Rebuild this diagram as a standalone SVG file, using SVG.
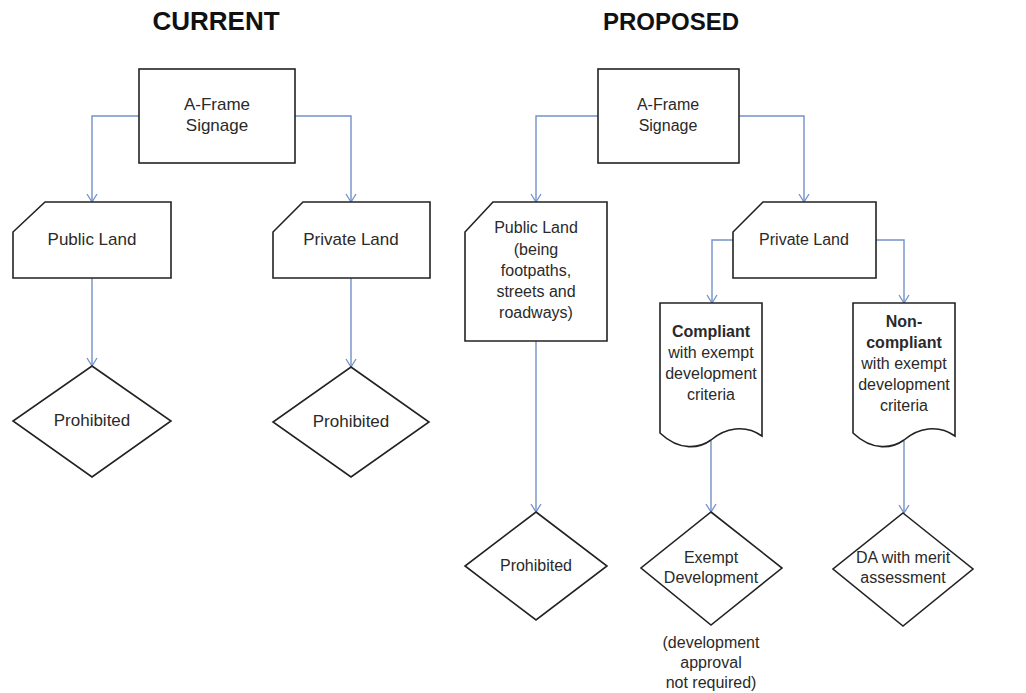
<svg xmlns="http://www.w3.org/2000/svg" width="1026" height="693" viewBox="0 0 1026 693">
<defs>
<marker id="arr" markerUnits="userSpaceOnUse" markerWidth="12" markerHeight="12" viewBox="0 0 12 12" refX="10" refY="6" orient="auto">
<path d="M2,1 L10,6 L2,11" fill="none" stroke="#7391c9" stroke-width="1.3"/>
</marker>
<style>
.shape{fill:#fff;stroke:#222;stroke-width:1.6}
.conn{fill:none;stroke:#7391c9;stroke-width:1.4;marker-end:url(#arr)}
.t{font-family:"Liberation Sans",Arial,sans-serif;fill:#2a2a2a;text-anchor:middle}
.l{font-size:17px}
.r{font-size:16px}
.b{font-weight:bold}
.title{font-family:"Liberation Sans",Arial,sans-serif;font-weight:bold;fill:#111;text-anchor:middle}
</style>
</defs>
<rect width="1026" height="693" fill="#fff"/>
<text class="title" x="216" y="30" font-size="26">CURRENT</text>
<text class="title" x="671" y="30" font-size="24">PROPOSED</text>
<g id="connectors">
<path class="conn" d="M139,116 H92 V202"/>
<path class="conn" d="M295,116 H351 V202"/>
<path class="conn" d="M92,278 V366"/>
<path class="conn" d="M351,278 V367"/>
<path class="conn" d="M598,116 H536 V202"/>
<path class="conn" d="M739,116 H804 V202"/>
<path class="conn" d="M733,240 H712 V303"/>
<path class="conn" d="M876,240 H904 V303"/>
<path class="conn" d="M536,341 V512"/>
<path class="conn" d="M711,441 V512"/>
<path class="conn" d="M904,441 V513"/>
</g>
<g id="cur-aframe">
<rect class="shape" x="139" y="69" width="156" height="94"/>
<text class="t l" x="217" y="110">A-Frame</text>
<text class="t l" x="217" y="131">Signage</text>
</g>
<g id="cur-public">
<path class="shape" d="M45,202 L171,202 L171,278 L13,278 L13,232 Z"/>
<text class="t l" x="92" y="245">Public Land</text>
</g>
<g id="cur-private">
<path class="shape" d="M303,202 L430,202 L430,278 L273,278 L273,232 Z"/>
<text class="t l" x="351" y="245">Private Land</text>
</g>
<g id="cur-prohibited-1">
<polygon class="shape" points="92,366 171,421 92,477 13,421"/>
<text class="t l" x="92" y="426">Prohibited</text>
</g>
<g id="cur-prohibited-2">
<polygon class="shape" points="351,367 429,422 351,477 273,422"/>
<text class="t l" x="351" y="427">Prohibited</text>
</g>
<g id="prop-aframe">
<rect class="shape" x="598" y="69" width="141" height="94"/>
<text class="t r" x="668" y="110">A-Frame</text>
<text class="t r" x="668" y="131">Signage</text>
</g>
<g id="prop-public">
<path class="shape" d="M493,202 L607,202 L607,341 L465,341 L465,232 Z"/>
<text class="t r" x="536" y="233">Public Land</text>
<text class="t r" x="536" y="255">(being</text>
<text class="t r" x="536" y="276">footpaths,</text>
<text class="t r" x="536" y="297">streets and</text>
<text class="t r" x="536" y="318">roadways)</text>
</g>
<g id="prop-private">
<path class="shape" d="M763,202 L876,202 L876,278 L733,278 L733,232 Z"/>
<text class="t r" x="804" y="245">Private Land</text>
</g>
<g id="prop-compliant">
<path class="shape" d="M660,303 H762 V436 C745,424 725,428 711,440 C700,448 680,452 660,433 Z"/>
<text class="t r b" x="711" y="337">Compliant</text>
<text class="t r" x="711" y="358">with exempt</text>
<text class="t r" x="711" y="379">development</text>
<text class="t r" x="711" y="400">criteria</text>
</g>
<g id="prop-noncompliant">
<path class="shape" d="M853,303 H955 V436 C938,424 918,428 904,440 C893,448 873,452 853,433 Z"/>
<text class="t r b" x="904" y="327">Non-</text>
<text class="t r b" x="904" y="348">compliant</text>
<text class="t r" x="904" y="369">with exempt</text>
<text class="t r" x="904" y="390">development</text>
<text class="t r" x="904" y="411">criteria</text>
</g>
<g id="prop-prohibited">
<polygon class="shape" points="536,512 607,566 536,620 465,566"/>
<text class="t r" x="536" y="571">Prohibited</text>
</g>
<g id="prop-exempt">
<polygon class="shape" points="711,512 782,568 711,625 641,568"/>
<text class="t r" x="711" y="563">Exempt</text>
<text class="t r" x="711" y="583">Development</text>
</g>
<g id="prop-da">
<polygon class="shape" points="903,513 973,569 903,626 833,569"/>
<text class="t r" x="903" y="563">DA with merit</text>
<text class="t r" x="903" y="583">assessment</text>
</g>
<g id="exempt-note">
<text class="t r" x="711" y="648">(development</text>
<text class="t r" x="711" y="668">approval</text>
<text class="t r" x="711" y="688">not required)</text>
</g>
</svg>
